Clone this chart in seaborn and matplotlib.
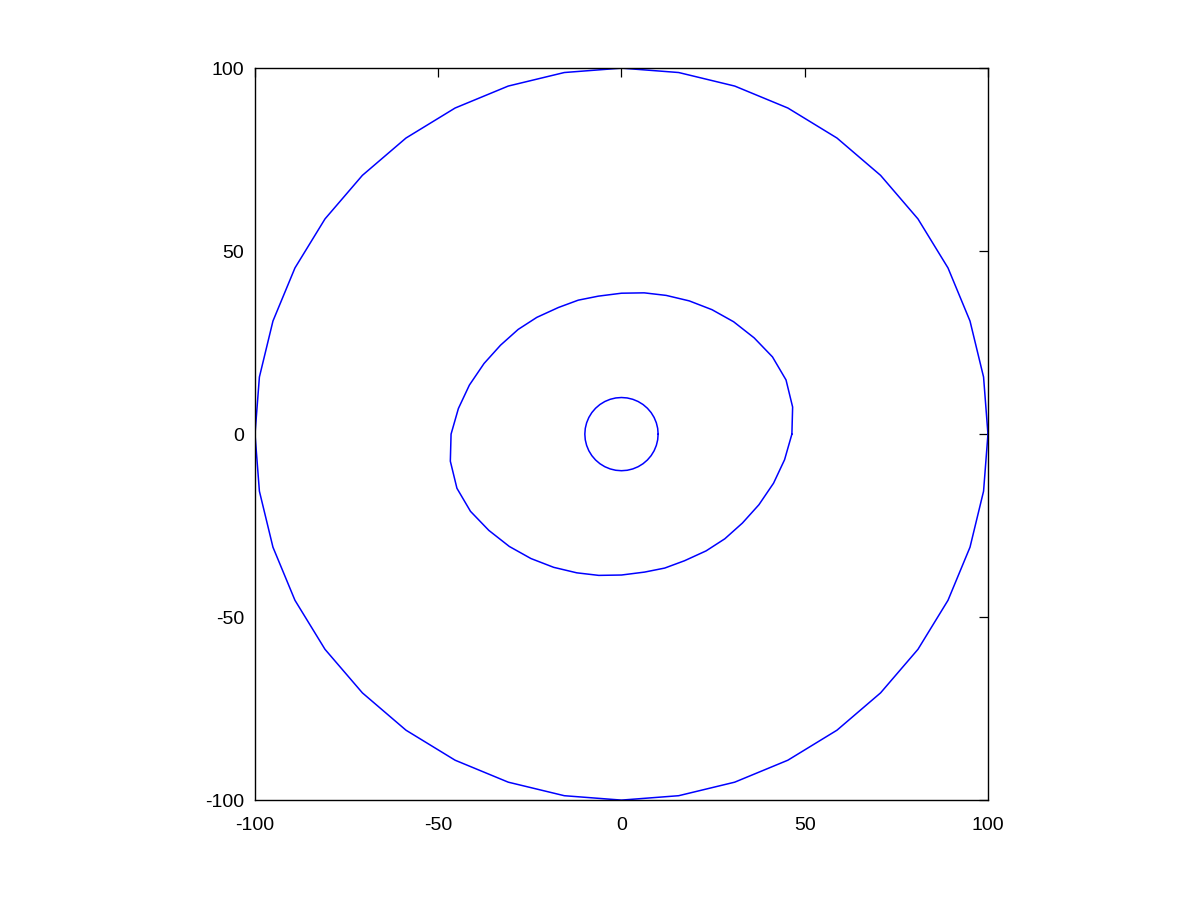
import matplotlib
matplotlib.use("Agg")
import matplotlib.pyplot as plt
import numpy as np
import pandas as pd
import seaborn as sns

# outer ring, 40-gon of radius 100
outer_x = [100, 98.8, 95.1, 89.1, 80.9, 70.7, 58.8, 45.4, 30.9, 15.6,
           0, -15.6, -30.9, -45.4, -58.8, -70.7, -80.9, -89.1, -95.1, -98.8,
           -100, -98.8, -95.1, -89.1, -80.9, -70.7, -58.8, -45.4, -30.9, -15.6,
           0, 15.6, 30.9, 45.4, 58.8, 70.7, 80.9, 89.1, 95.1, 98.8, 100]
outer_y = [0, 15.6, 30.9, 45.4, 58.8, 70.7, 80.9, 89.1, 95.1, 98.8,
           100, 98.8, 95.1, 89.1, 80.9, 70.7, 58.8, 45.4, 30.9, 15.6,
           0, -15.6, -30.9, -45.4, -58.8, -70.7, -80.9, -89.1, -95.1, -98.8,
           -100, -98.8, -95.1, -89.1, -80.9, -70.7, -58.8, -45.4, -30.9, -15.6, 0]

# middle tilted loop
middle_x = [46.5, 46.7, 44.9, 41.2, 36.2, 30.6, 24.7, 18.5, 12.2, 6.2,
            0.0, -6.3, -11.8, -17.2, -23.1, -28.2, -33.0, -37.5, -41.5, -44.5,
            -46.5, -46.7, -44.9, -41.2, -36.2, -30.6, -24.7, -18.5, -12.2, -6.2,
            0.0, 6.3, 11.8, 17.2, 23.1, 28.2, 33.0, 37.5, 41.5, 44.5, 46.5]
middle_y = [0.0, 7.4, 14.8, 21.1, 26.3, 30.7, 34.0, 36.4, 37.9, 38.6,
            38.5, 37.7, 36.6, 34.6, 31.9, 28.6, 24.3, 19.3, 13.4, 7.0,
            0.0, -7.4, -14.8, -21.1, -26.3, -30.7, -34.0, -36.4, -37.9, -38.6,
            -38.5, -37.7, -36.6, -34.6, -31.9, -28.6, -24.3, -19.3, -13.4, -7.0, 0.0]

# small inner circle, radius 10
inner_x = [10, 9.88, 9.51, 8.91, 8.09, 7.07, 5.88, 4.54, 3.09, 1.56,
           0, -1.56, -3.09, -4.54, -5.88, -7.07, -8.09, -8.91, -9.51, -9.88,
           -10, -9.88, -9.51, -8.91, -8.09, -7.07, -5.88, -4.54, -3.09, -1.56,
           0, 1.56, 3.09, 4.54, 5.88, 7.07, 8.09, 8.91, 9.51, 9.88, 10]
inner_y = [0, 1.56, 3.09, 4.54, 5.88, 7.07, 8.09, 8.91, 9.51, 9.88,
           10, 9.88, 9.51, 8.91, 8.09, 7.07, 5.88, 4.54, 3.09, 1.56,
           0, -1.56, -3.09, -4.54, -5.88, -7.07, -8.09, -8.91, -9.51, -9.88,
           -10, -9.88, -9.51, -8.91, -8.09, -7.07, -5.88, -4.54, -3.09, -1.56, 0]

ticks = [-100, -50, 0, 50, 100]

sns.set_style("white")
plt.rcParams['font.family'] = ['Liberation Sans', 'DejaVu Sans']
plt.rcParams['axes.unicode_minus'] = False

frames = []
for name, xs, ys in [("outer", outer_x, outer_y),
                     ("middle", middle_x, middle_y),
                     ("inner", inner_x, inner_y)]:
    frames.append(pd.DataFrame({"x": xs, "y": ys, "curve": name,
                                "order": np.arange(len(xs))}))
df = pd.concat(frames, ignore_index=True)

fig = plt.figure(figsize=(12, 9), dpi=100)
ax = fig.add_axes([0.2125, 0.111, 0.6108, 0.8133])

for name in ["outer", "middle", "inner"]:
    sub = df[df["curve"] == name]
    sns.lineplot(data=sub, x="x", y="y", sort=False, estimator=None,
                 color="#0000ff", linewidth=1.1, ax=ax)

ax.set_xlim(-100, 100)
ax.set_ylim(-100, 100)
ax.set_xticks(ticks)
ax.set_yticks(ticks)
ax.set_xlabel("")
ax.set_ylabel("")
for s in ax.spines.values():
    s.set_visible(True)
    s.set_color("black")
    s.set_linewidth(1.0)
ax.tick_params(direction="in", length=6.5, width=0.9, color="black",
               top=True, right=True, labelsize=14, labelcolor="black")
ax.tick_params(axis="x", pad=12)
ax.tick_params(axis="y", pad=8)

fig.savefig("out.png", dpi=100)
